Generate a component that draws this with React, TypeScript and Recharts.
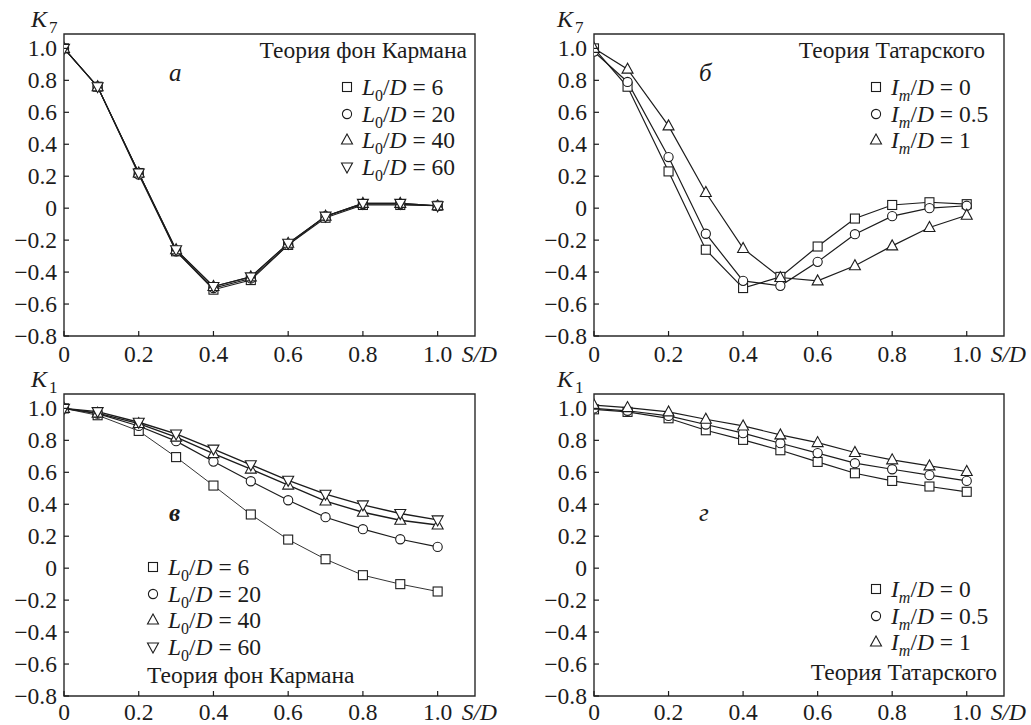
import React from "react";
import { LineChart, Line, XAxis, YAxis, ReferenceArea } from "recharts";

// relative distance S/D
const sd = [0, 0.09, 0.2, 0.3, 0.4, 0.5, 0.6, 0.7, 0.8, 0.9, 1.0];

// (а) K7, von Karman theory
const k7KarmanL6 = [1.0, 0.76, 0.22, -0.27, -0.51, -0.45, -0.23, -0.06, 0.02, 0.02, 0.015];
const k7KarmanL20 = [1.0, 0.76, 0.21, -0.27, -0.5, -0.44, -0.23, -0.05, 0.025, 0.025, 0.015];
const k7KarmanL40 = [1.0, 0.76, 0.22, -0.26, -0.49, -0.43, -0.22, -0.05, 0.03, 0.03, 0.015];
const k7KarmanL60 = [1.0, 0.76, 0.22, -0.26, -0.49, -0.43, -0.22, -0.05, 0.03, 0.03, 0.015];

// (б) K7, Tatarsky theory
const k7TatIm0 = [1.0, 0.76, 0.23, -0.26, -0.5, -0.43, -0.24, -0.065, 0.02, 0.037, 0.025];
const k7TatIm05 = [0.98, 0.79, 0.32, -0.16, -0.455, -0.486, -0.336, -0.163, -0.05, 0.0, 0.015];
const k7TatIm1 = [1.0, 0.87, 0.515, 0.098, -0.252, -0.434, -0.455, -0.36, -0.236, -0.121, -0.044];

// (в) K1, von Karman theory
const k1KarmanL6 = [1.0, 0.957, 0.859, 0.695, 0.517, 0.336, 0.179, 0.056, -0.044, -0.1, -0.146];
const k1KarmanL20 = [1.0, 0.967, 0.89, 0.795, 0.667, 0.544, 0.425, 0.319, 0.244, 0.181, 0.133];
const k1KarmanL40 = [1.0, 0.97, 0.905, 0.82, 0.717, 0.62, 0.52, 0.42, 0.35, 0.3, 0.27];
const k1KarmanL60 = [1.0, 0.98, 0.913, 0.84, 0.745, 0.647, 0.55, 0.463, 0.396, 0.342, 0.302];

// (г) K1, Tatarsky theory
const k1TatIm0 = [0.994, 0.978, 0.938, 0.863, 0.803, 0.738, 0.665, 0.594, 0.546, 0.511, 0.478];
const k1TatIm05 = [1.0, 0.985, 0.953, 0.899, 0.845, 0.782, 0.72, 0.657, 0.619, 0.582, 0.546];
const k1TatIm1 = [1.02, 1.005, 0.978, 0.932, 0.89, 0.834, 0.786, 0.724, 0.678, 0.64, 0.605];

const xTicks = [0, 0.2, 0.4, 0.6, 0.8, 1.0];
const yTicks = [-0.8, -0.6, -0.4, -0.2, 0, 0.2, 0.4, 0.6, 0.8, 1.0];

const karmanLabels = ["6", "20", "40", "60"];
const tatarskyLabels = ["0", "0.5", "1"];
const karmanTitle = "Теория фон Кармана";
const tatarskyTitle = "Теория Татарского";

const FONT = "'Liberation Serif', 'Times New Roman', serif";
const INK = "#1c1c1c";
const FS = 23.5;

type Shape = "square" | "circle" | "up" | "down";

const fmt = (v: number) => {
  if (Math.abs(v) < 1e-9) return "0";
  return v.toFixed(1).replace("-", "\u2212");
};

function marker(shape: Shape, cx: number, cy: number, key?: any) {
  const p = { fill: "#fff", stroke: INK, strokeWidth: 1.1 };
  if (shape === "square") return <rect key={key} x={cx - 4.5} y={cy - 4.5} width={9} height={9} {...p} />;
  if (shape === "circle") return <circle key={key} cx={cx} cy={cy} r={4.6} {...p} />;
  if (shape === "up")
    return <polygon key={key} points={`${cx},${cy - 6} ${cx - 5.5},${cy + 4} ${cx + 5.5},${cy + 4}`} {...p} />;
  return <polygon key={key} points={`${cx - 5.5},${cy - 4} ${cx + 5.5},${cy - 4} ${cx},${cy + 6}`} {...p} />;
}

const XTick = (props: any) => {
  const { x, y, payload, dy } = props;
  const v = payload.value;
  return (
    <g>
      <line x1={x} y1={y} x2={x} y2={y - 5} stroke={INK} strokeWidth={1.2} />
      <text x={x} y={y + dy} textAnchor="middle" style={{ fontFamily: FONT }} fontSize={FS} fill={INK}>
        {fmt(v)}
      </text>
      {v === 1 && (
        <text x={x + 24} y={y + dy} style={{ fontFamily: FONT }} fontStyle="italic" fontSize={FS} fill={INK}>
          S/D
        </text>
      )}
    </g>
  );
};

const YTick = (props: any) => {
  const { x, y, payload } = props;
  return (
    <g>
      <line x1={x} y1={y} x2={x + 5} y2={y} stroke={INK} strokeWidth={1.2} />
      <text x={x - 7} y={y + 8} textAnchor="end" style={{ fontFamily: FONT }} fontSize={FS} fill={INK}>
        {fmt(payload.value)}
      </text>
    </g>
  );
};

interface Series {
  key: string;
  values: number[];
  shape: Shape;
  width: number;
}

interface PanelProps {
  left: number;
  top: number;
  width: number;
  height: number;
  yAxisWidth: number;
  rightMargin: number;
  labelDy: number;
  series: Series[];
}

function Panel({ left, top, width, height, yAxisWidth, rightMargin, labelDy, series }: PanelProps) {
  const rows = sd.map((x, i) => {
    const r: any = { sd: x };
    series.forEach((s) => (r[s.key] = s.values[i]));
    return r;
  });
  return (
    <div style={{ position: "absolute", left, top, width, height }}>
      <LineChart width={width} height={height} data={rows} margin={{ top: 34, right: rightMargin, left: 0, bottom: height - 365 }}>
        <XAxis
          dataKey="sd"
          type="number"
          domain={[0, 1.1]}
          ticks={xTicks}
          allowDataOverflow
          axisLine={false}
          tickLine={false}
          tickSize={0}
          tickMargin={0}
          height={29}
          tick={<XTick dy={labelDy} />}
        />
        <YAxis
          type="number"
          domain={[-0.8, 1.09]}
          ticks={yTicks}
          allowDataOverflow
          axisLine={false}
          tickLine={false}
          tickSize={0}
          tickMargin={0}
          width={yAxisWidth}
          tick={<YTick />}
        />
        <ReferenceArea x1={0} x2={1.1} y1={-0.8} y2={1.09} fill="none" stroke="#2a2a2a" strokeWidth={1.4} ifOverflow="visible" />
        {series.map((s) => (
          <Line
            key={s.key}
            dataKey={s.key}
            type="linear"
            stroke={INK}
            strokeWidth={s.width}
            isAnimationActive={false}
            activeDot={false}
            dot={(p: any) => marker(s.shape, p.cx, p.cy, `${s.key}-${p.index}`)}
          />
        ))}
      </LineChart>
    </div>
  );
}

const txt = (extra: React.CSSProperties): React.CSSProperties => ({
  position: "absolute",
  fontFamily: FONT,
  fontSize: FS,
  lineHeight: `${FS}px`,
  color: INK,
  whiteSpace: "nowrap",
  ...extra,
});

function LegendBox({ left, top, kind, shapes, labels }: { left: number; top: number; kind: "L" | "I"; shapes: Shape[]; labels: string[] }) {
  return (
    <div style={{ position: "absolute", left, top }}>
      {labels.map((lab, i) => (
        <div key={lab} style={{ height: 26.7, display: "flex", alignItems: "center" }}>
          <svg width={14} height={14} style={{ flex: "none" }}>
            {marker(shapes[i], 7, 7)}
          </svg>
          <span style={{ fontFamily: FONT, fontSize: FS, lineHeight: "22px", color: INK, marginLeft: 8, whiteSpace: "nowrap" }}>
            <i>{kind}</i>
            <span
              style={{
                fontSize: 16,
                position: "relative",
                top: 6,
                lineHeight: 0,
                fontStyle: kind === "I" ? "italic" : "normal",
              }}
            >
              {kind === "L" ? "0" : "m"}
            </span>
            /<i>D</i> = {lab}
          </span>
        </div>
      ))}
    </div>
  );
}

function AxisName({ left, top, sub }: { left: number; top: number; sub: string }) {
  return (
    <div style={txt({ left, top, fontSize: 24, lineHeight: "24px" })}>
      <i>K</i>
      <span style={{ fontSize: 17, position: "relative", top: 6, marginLeft: 2 }}>{sub}</span>
    </div>
  );
}

function Title({ right, left, top, text }: { right?: number; left?: number; top: number; text: string }) {
  return <div style={txt({ right, left, top })}>{text}</div>;
}

export default function App() {
  return (
    <div style={{ position: "absolute", left: 0, top: 0, width: 1031, height: 725, background: "#fff", overflow: "hidden" }}>
      <Panel
        left={0}
        top={0}
        width={515}
        height={375}
        yAxisWidth={64}
        rightMargin={40}
        labelDy={26}
        series={[
          { key: "l6", values: k7KarmanL6, shape: "square", width: 1.1 },
          { key: "l20", values: k7KarmanL20, shape: "circle", width: 1.1 },
          { key: "l40", values: k7KarmanL40, shape: "up", width: 1.1 },
          { key: "l60", values: k7KarmanL60, shape: "down", width: 1.1 },
        ]}
      />
      <Panel
        left={515}
        top={0}
        width={516}
        height={375}
        yAxisWidth={79}
        rightMargin={27}
        labelDy={26}
        series={[
          { key: "i0", values: k7TatIm0, shape: "square", width: 1.2 },
          { key: "i05", values: k7TatIm05, shape: "circle", width: 1.2 },
          { key: "i1", values: k7TatIm1, shape: "up", width: 1.2 },
        ]}
      />
      <Panel
        left={0}
        top={360}
        width={515}
        height={365}
        yAxisWidth={64}
        rightMargin={40}
        labelDy={24}
        series={[
          { key: "l6", values: k1KarmanL6, shape: "square", width: 0.9 },
          { key: "l20", values: k1KarmanL20, shape: "circle", width: 1.2 },
          { key: "l40", values: k1KarmanL40, shape: "up", width: 1.4 },
          { key: "l60", values: k1KarmanL60, shape: "down", width: 1.4 },
        ]}
      />
      <Panel
        left={515}
        top={360}
        width={516}
        height={365}
        yAxisWidth={79}
        rightMargin={27}
        labelDy={24}
        series={[
          { key: "i0", values: k1TatIm0, shape: "square", width: 1.2 },
          { key: "i05", values: k1TatIm05, shape: "circle", width: 1.2 },
          { key: "i1", values: k1TatIm1, shape: "up", width: 1.2 },
        ]}
      />

      <AxisName left={31} top={7} sub="7" />
      <AxisName left={557} top={7} sub="7" />
      <AxisName left={31} top={367} sub="1" />
      <AxisName left={557} top={367} sub="1" />

      <Title right={1031 - 467} top={39} text={karmanTitle} />
      <Title right={1031 - 985} top={39} text={tatarskyTitle} />
      <Title left={147} top={664} text={karmanTitle} />
      <Title right={1031 - 997} top={661} text={tatarskyTitle} />

      <div style={txt({ left: 169, top: 60, fontSize: 25, lineHeight: "25px", fontStyle: "italic" })}>а</div>
      <div style={txt({ left: 699, top: 60, fontSize: 25, lineHeight: "25px", fontStyle: "italic" })}>б</div>
      <div style={txt({ left: 169, top: 500, fontSize: 25, lineHeight: "25px", fontStyle: "italic", fontWeight: "bold" })}>в</div>
      <div style={txt({ left: 699, top: 500, fontSize: 25, lineHeight: "25px", fontStyle: "italic" })}>г</div>

      <LegendBox left={340} top={73.5} kind="L" shapes={["square", "circle", "up", "down"]} labels={karmanLabels} />
      <LegendBox left={869} top={73.5} kind="I" shapes={["square", "circle", "up"]} labels={tatarskyLabels} />
      <LegendBox left={146} top={553.5} kind="L" shapes={["square", "circle", "up", "down"]} labels={karmanLabels} />
      <LegendBox left={869} top={575.5} kind="I" shapes={["square", "circle", "up"]} labels={tatarskyLabels} />
    </div>
  );
}
